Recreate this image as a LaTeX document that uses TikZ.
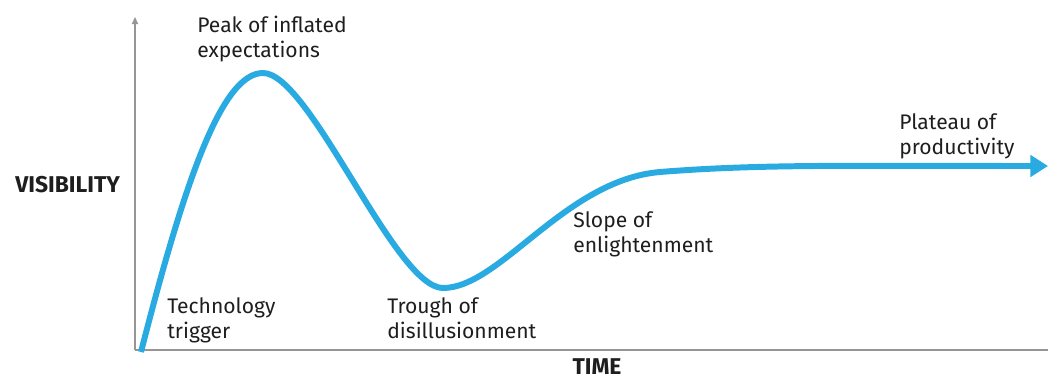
\documentclass[tikz,border=0pt]{standalone}
\usepackage{fontspec}
\setmainfont{Fira Sans}
\usepackage{tikz}
\usetikzlibrary{arrows.meta,calc}

\definecolor{hypeblue}{RGB}{41,171,226}
\definecolor{axisgray}{RGB}{150,150,150}
\definecolor{textdark}{RGB}{30,30,30}

\begin{document}
\begin{tikzpicture}[x=0.02cm, y=-0.02cm, >=Stealth,
    phase/.style={anchor=north west, inner sep=0pt, align=left, text=textdark,
        font=\fontsize{12}{14.2}\selectfont},
    axislabel/.style={inner sep=0pt, text=textdark, font=\fontsize{13}{15}\selectfont\bfseries}]

    %% Background
    \useasboundingbox (0,0) rectangle (1048,379);

    %Axes
    \coordinate (O) at (135,350);
    \coordinate (ytop) at (135,17);
    \coordinate (xend) at (1048,350);
    \draw[axisgray, line width=0.85pt, -{Triangle[length=4pt,width=3.5pt]}] (O) -- (ytop);
    \draw[axisgray, line width=0.85pt] (O) -- (xend);

    \node[axislabel, anchor=base west] (vis) at (15,192) {VISIBILITY};
    \node[axislabel, anchor=base] (time) at (597,374) {TIME};

    % Hype curve
    \draw[hypeblue, line width=3.4pt, -{Triangle[length=10pt,width=12pt]}]
    (141,352) .. controls (185,180) and (222,73) .. (263,73)
              .. controls (310,73) and (395,288) .. (443,288)
              .. controls (500,288) and (565,180) .. (660,172)
              .. controls (760,164) and (850,166) .. (1048,166);

    % Phases
    \node[phase] (peak) at (197,16) {Peak of inflated\\expectations};
    \node[phase] (trigger) at (167,297) {Technology\\trigger};
    \node[phase] (trough) at (387,297) {Trough of\\disillusionment};
    \node[phase] (slope) at (573,211) {Slope of\\enlightenment};
    \node[phase] (plateau) at (899,113) {Plateau of\\productivity};

\end{tikzpicture}
\end{document}
